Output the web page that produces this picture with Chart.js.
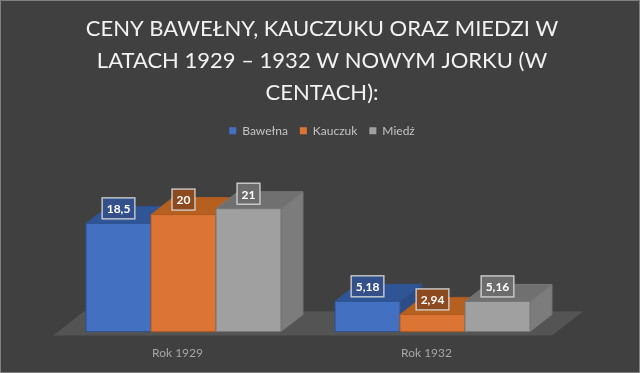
<!DOCTYPE html>
<html>
<head>
<meta charset="utf-8">
<script src="https://cdn.jsdelivr.net/npm/chart.js@4"></script>
<style>
  html, body { margin: 0; padding: 0; background: #404040; }
  #wrap { width: 640px; height: 373px; }
</style>
</head>
<body>
<div id="wrap"><canvas id="chart" width="640" height="373"></canvas></div>
<script>
const categories = ['Rok 1929', 'Rok 1932'];
const seriesNames = ['Bawełna', 'Kauczuk', 'Miedź'];
const bawelna = [18.5, 5.18];
const kauczuk = [20, 2.94];
const miedz = [21, 5.16];
const titleLines = [
    'CENY BAWEŁNY, KAUCZUKU ORAZ MIEDZI W',
    'LATACH 1929 – 1932 W NOWYM JORKU (W',
    'CENTACH):'
];

const frontColors = ['#4470c2', '#dc7533', '#a0a0a0'];
const topColors = ['#2f5597', '#b5601f', '#707070'];
const sideColors = ['#2b4c86', '#a85a20', '#7c7c7c'];
const edgeColors = ['#2f528f', '#ae5a21', '#767676'];
const labelFills = ['#33508a', '#8d4a20', '#6c6c6c'];

const depthX = 22;
const depthY = -17;
const yMax = 31.6;
const fontFamily = 'Lato, "Open Sans", sans-serif';

function fillPoly(ctx, pts, fill, stroke) {
    ctx.beginPath();
    ctx.moveTo(pts[0][0], pts[0][1]);
    for (let i = 1; i < pts.length; i++) ctx.lineTo(pts[i][0], pts[i][1]);
    ctx.closePath();
    ctx.fillStyle = fill;
    ctx.fill();
    if (stroke) {
        ctx.strokeStyle = stroke;
        ctx.lineWidth = 1;
        ctx.stroke();
    }
}

// draws floor + 3d boxes instead of the flat bars
const bars3d = {
    id: 'bars3d',
    beforeDraw(chart) {
        const { ctx, width, height } = chart;
        ctx.save();
        ctx.fillStyle = '#404040';
        ctx.fillRect(0, 0, width, height);
        ctx.strokeStyle = '#808080';
        ctx.lineWidth = 1;
        ctx.strokeRect(0.5, 0.5, width - 1, height - 1);
        ctx.restore();
    },
    beforeDatasetsDraw(chart) {
        const { ctx, chartArea } = chart;
        const floorY = chartArea.bottom + 4;
        const fl = chartArea.left - 6;
        const fr = chartArea.right - 5;
        ctx.save();
        fillPoly(ctx, [[fl, floorY], [fr, floorY], [fr + 31, floorY - 24], [fl + 31, floorY - 24]], '#545454');

        categories.forEach((cat, i) => {
            chart.data.datasets.forEach((ds, d) => {
                const bar = chart.getDatasetMeta(d).data[i];
                const l = bar.x - bar.width / 2;
                const r = bar.x + bar.width / 2;
                const t = bar.y;
                const b = bar.base;
                fillPoly(ctx, [[r, t], [r + depthX, t + depthY], [r + depthX, b + depthY], [r, b]], sideColors[d], edgeColors[d]);
                fillPoly(ctx, [[l, t], [r, t], [r + depthX, t + depthY], [l + depthX, t + depthY]], topColors[d], edgeColors[d]);
                fillPoly(ctx, [[l, t], [r, t], [r, b], [l, b]], frontColors[d], edgeColors[d]);
            });
        });
        ctx.restore();
        return false;
    },
    afterDraw(chart) {
        const { ctx } = chart;
        ctx.save();
        ctx.font = 'bold 12px ' + fontFamily;
        ctx.textAlign = 'center';
        ctx.textBaseline = 'middle';
        chart.data.datasets.forEach((ds, d) => {
            chart.getDatasetMeta(d).data.forEach((bar, i) => {
                const txt = String(ds.data[i]).replace('.', ',');
                const w = ctx.measureText(txt).width + 9;
                const h = 21;
                const cx = bar.x;
                const cy = bar.y - 15;
                ctx.fillStyle = labelFills[d];
                ctx.fillRect(cx - w / 2, cy - h / 2, w, h);
                ctx.strokeStyle = 'rgba(215,215,215,0.85)';
                ctx.lineWidth = 1.5;
                ctx.strokeRect(cx - w / 2, cy - h / 2, w, h);
                ctx.fillStyle = '#ffffff';
                ctx.fillText(txt, cx, cy + 1);
            });
        });
        ctx.restore();
    }
};

new Chart(document.getElementById('chart'), {
    type: 'bar',
    data: {
        labels: categories,
        datasets: [
            { label: seriesNames[0], data: bawelna, backgroundColor: frontColors[0], borderWidth: 0 },
            { label: seriesNames[1], data: kauczuk, backgroundColor: frontColors[1], borderWidth: 0 },
            { label: seriesNames[2], data: miedz, backgroundColor: frontColors[2], borderWidth: 0 }
        ]
    },
    options: {
        responsive: false,
        animation: false,
        devicePixelRatio: 1,
        categoryPercentage: 0.783,
        barPercentage: 1,
        layout: { padding: { left: 59, right: 55, top: 0, bottom: 7 } },
        plugins: {
            title: {
                display: true,
                text: titleLines,
                color: '#f2f2f2',
                font: { family: fontFamily, size: 22, weight: 'normal', lineHeight: 1.45 },
                padding: { top: 13, bottom: 4 }
            },
            legend: {
                position: 'top',
                labels: {
                    color: '#c4c4c4',
                    font: { family: fontFamily, size: 12 },
                    boxWidth: 7,
                    boxHeight: 7,
                    padding: 12
                }
            },
            tooltip: { enabled: false }
        },
        scales: {
            x: {
                grid: { display: false },
                border: { display: false },
                ticks: {
                    color: '#a6a6a6',
                    font: { family: fontFamily, size: 12 },
                    padding: 6,
                    labelOffset: -6
                }
            },
            y: {
                position: 'right',
                min: 0,
                max: yMax,
                grid: { display: false },
                border: { display: false },
                ticks: { display: false },
                afterFit(scale) { scale.width = 28; }
            }
        }
    },
    plugins: [bars3d]
});
</script>
</body>
</html>
